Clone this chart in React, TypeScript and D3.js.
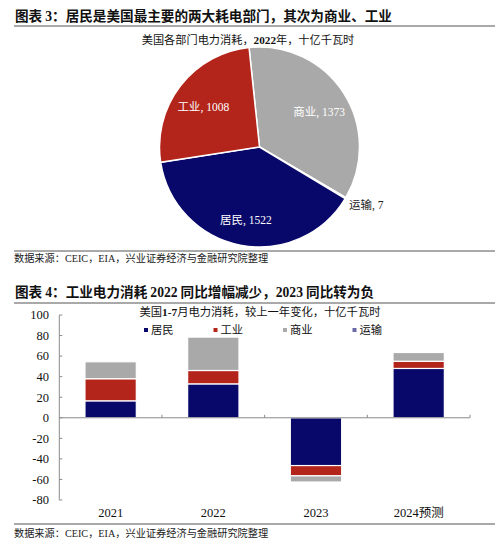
import React from 'react';
import * as d3 from 'd3';

// pie: US power consumption by sector, 2022, billion kWh
const pieSectors = ['商业', '运输', '居民', '工业'];
const pieValues = [1373, 7, 1522, 1008];
const pieColors = ['#a9a9a9', '#6a6aa6', '#08086a', '#b3241b'];

// bars: Jan-Jul change vs prior year, billion kWh
const years = ['2021', '2022', '2023', '2024预测'];
const seriesNames = ['居民', '工业', '商业', '运输'];
const residential = [16.5, 33, -46.5, 48];
const industrial = [21.5, 13, -10, 7];
const commercial = [16.5, 32.5, -6, 8.5];
const transport = [0, 0, 0, 0];
const yTicks = [100, 80, 60, 40, 20, 0, -20, -40, -60, -80];
const barColors = ['#08086a', '#b3241b', '#a9a9a9', '#6a6aa6'];

const serif = '"Times New Roman", "Liberation Serif", "Noto Sans CJK SC", serif';
const cjk = '"Noto Sans CJK SC", "Liberation Serif", serif';

const W = 500;
const H = 545;

const PieChart = () => {
    const cx = 259.5, cy = 147, r = 100;
    const pie = d3.pie<number>().sort(null).startAngle(-6 * Math.PI / 180).endAngle(2 * Math.PI - 6 * Math.PI / 180);
    const arcs = pie(pieValues);
    const arc = d3.arc<d3.PieArcDatum<number>>().innerRadius(0).outerRadius(r);
    const labelArc = d3.arc<d3.PieArcDatum<number>>().innerRadius(71).outerRadius(71);
    const outerArc = d3.arc<d3.PieArcDatum<number>>().innerRadius(104).outerRadius(104);
    return (
        <g transform={`translate(${cx},${cy})`}>
            {arcs.map((a, i) => (
                <path key={i} d={arc(a) || ''} fill={pieColors[i]} stroke="#fff" strokeWidth={1.5} />
            ))}
            {arcs.map((a, i) => {
                const small = pieValues[i] < 50;
                const [x, y] = small ? outerArc.centroid(a) : labelArc.centroid(a);
                return (
                    <text key={'l' + i} x={x} y={y + (small ? 5 : 3)} dy="0.35em" fontSize={11.5}
                        fontFamily={serif} fill={small ? '#222' : '#fff'}
                        textAnchor={small ? 'start' : 'middle'}>
                        {pieSectors[i]}, {pieValues[i]}
                    </text>
                );
            })}
        </g>
    );
};

const BarChart = () => {
    const x = d3.scaleBand().domain(years).range([59.3, 470]).paddingInner(0.5).paddingOuter(0.25);
    const y = d3.scaleLinear().domain([-80, 100]).range([500, 315]);
    const rows = years.map((yr, i) => ({
        year: yr,
        居民: residential[i],
        工业: industrial[i],
        商业: commercial[i],
        运输: transport[i],
    }));
    const stacked = d3.stack<any>().keys(seriesNames).offset(d3.stackOffsetDiverging)(rows);
    const step = x.step();
    const left = 59.3;
    return (
        <g>
            {stacked.map((s, si) => (
                <g key={si} fill={barColors[si]}>
                    {s.map((d, di) => {
                        const top = y(Math.max(d[0], d[1]));
                        const h = Math.abs(y(d[0]) - y(d[1]));
                        if (h < 0.01) return null;
                        return <rect key={di} x={x(d.data.year)} y={top} width={x.bandwidth()} height={h}
                            stroke="#fff" strokeWidth={1.2} />;
                    })}
                </g>
            ))}
            {/* y axis */}
            <line x1={left} x2={left} y1={y(100)} y2={y(-80)} stroke="#8a8a8a" strokeWidth={1} />
            {yTicks.map(t => (
                <g key={t}>
                    <line x1={left} x2={left + 3} y1={y(t)} y2={y(t)} stroke="#8a8a8a" />
                    <text x={49} y={y(t)} dy="0.35em" textAnchor="end" fontSize={12.5} fontFamily={serif} fill="#111">{t}</text>
                </g>
            ))}
            {/* zero line */}
            <line x1={left} x2={470} y1={y(0)} y2={y(0)} stroke="#8a8a8a" strokeWidth={1} />
            {years.map((yr, i) => (
                <line key={'t' + yr} x1={left + step * (i + 1)} x2={left + step * (i + 1)} y1={y(0) - 3} y2={y(0)} stroke="#8a8a8a" />
            ))}
            {years.map(yr => (
                <text key={yr} x={(x(yr) || 0) + x.bandwidth() / 2} y={513} dy="0.35em" textAnchor="middle"
                    fontSize={12.5} fontFamily={serif} fill="#111">{yr}</text>
            ))}
            <text x={260} y={312.5} dy="0.35em" textAnchor="middle" fontSize={11.3} fontFamily={cjk} fill="#111">
                美国<tspan fontFamily={serif} fontWeight="bold">1-7</tspan>月电力消耗，较上一年变化，十亿千瓦时
            </text>
            {seriesNames.map((n, i) => (
                <g key={n} transform={`translate(${146 + i * 69.5},330)`}>
                    <rect x={-2} y={-2} width={4} height={4} fill={barColors[i]} />
                    <text x={5} y={0} dy="0.35em" fontSize={11.3} fontFamily={cjk} fill="#111">{n}</text>
                </g>
            ))}
        </g>
    );
};

const App = () => {
    return (
        <div style={{ position: 'absolute', left: 0, top: 0, width: W, height: H, background: '#fff' }}>
            <svg width={W} height={H} style={{ display: 'block' }}>
                <rect width={W} height={H} fill="#fff" />
                <text x={15} y={16} dy="0.35em" fontSize={13.6} fontWeight="bold" fontFamily={cjk} fill="#111">
                    图表 <tspan fontFamily={serif}>3</tspan>：居民是美国最主要的两大耗电部门，其次为商业、工业
                </text>
                <line x1={14} x2={495} y1={26} y2={26} stroke="#555" strokeWidth={1} />
                <text x={248} y={40} dy="0.35em" textAnchor="middle" fontSize={11.2} fontFamily={cjk} fill="#111">
                    美国各部门电力消耗，<tspan fontFamily={serif} fontWeight="bold">2022</tspan>年，十亿千瓦时
                </text>
                <PieChart />
                <line x1={14} x2={495} y1={251} y2={251} stroke="#555" strokeWidth={1} />
                <text x={14} y={258.5} dy="0.35em" fontSize={10.2} fontFamily={cjk} fill="#222">
                    数据来源：<tspan fontFamily={serif}>CEIC</tspan>，<tspan fontFamily={serif}>EIA</tspan>，兴业证券经济与金融研究院整理
                </text>
                <text x={15} y={292} dy="0.35em" fontSize={13.6} fontWeight="bold" fontFamily={cjk} fill="#111">
                    图表 <tspan fontFamily={serif}>4</tspan>：工业电力消耗 <tspan fontFamily={serif}>2022</tspan> 同比增幅减少，<tspan fontFamily={serif}>2023</tspan> 同比转为负
                </text>
                <line x1={14} x2={495} y1={303} y2={303} stroke="#555" strokeWidth={1} />
                <BarChart />
                <line x1={14} x2={495} y1={524} y2={524} stroke="#555" strokeWidth={1} />
                <text x={14} y={533} dy="0.35em" fontSize={10.2} fontFamily={cjk} fill="#222">
                    数据来源：<tspan fontFamily={serif}>CEIC</tspan>，<tspan fontFamily={serif}>EIA</tspan>，兴业证券经济与金融研究院整理
                </text>
            </svg>
        </div>
    );
};

export default App;
